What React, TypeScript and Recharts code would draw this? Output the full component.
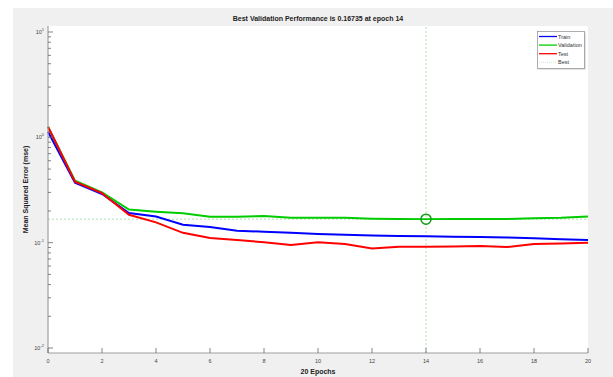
import {
  LineChart,
  Line,
  XAxis,
  YAxis,
  CartesianGrid,
  ReferenceLine,
  ReferenceDot,
  Legend,
} from "recharts";

// performance per epoch (mse)
const epochs = [0, 1, 2, 3, 4, 5, 6, 7, 8, 9, 10, 11, 12, 13, 14, 15, 16, 17, 18, 19, 20];
const train = [1.13, 0.37, 0.29, 0.191, 0.177, 0.148, 0.141, 0.13, 0.127, 0.124, 0.121, 0.119, 0.117, 0.116, 0.115, 0.114, 0.113, 0.112, 0.11, 0.108, 0.106];
const validation = [1.26, 0.387, 0.3, 0.206, 0.197, 0.19, 0.176, 0.176, 0.179, 0.172, 0.172, 0.172, 0.169, 0.168, 0.16735, 0.168, 0.168, 0.168, 0.171, 0.172, 0.177];
const test = [1.26, 0.38, 0.295, 0.184, 0.156, 0.124, 0.111, 0.106, 0.101, 0.095, 0.101, 0.097, 0.088, 0.0916, 0.0916, 0.092, 0.093, 0.091, 0.097, 0.098, 0.1];

const bestEpoch = 14;
const bestPerf = 0.16735;

const xTicks = [0, 2, 4, 6, 8, 10, 12, 14, 16, 18, 20];
const decades = [0.01, 0.1, 1, 10];
const minorSteps = [2, 3, 4, 5, 6, 7, 8, 9];
const yDomain = [0.00897, 11.4];

const legendItems = [
  { name: "Train", color: "#0000ff", dash: undefined },
  { name: "Validation", color: "#00cc00", dash: undefined },
  { name: "Test", color: "#ff0000", dash: undefined },
  { name: "Best", color: "#cfe8cf", dash: "1 1" },
];

const data = epochs.map((e, i) => ({
  epoch: e,
  train: train[i],
  validation: validation[i],
  test: test[i],
}));

const yTicks = decades
  .flatMap((d) => [d, ...minorSteps.map((m) => +(d * m).toPrecision(3))])
  .filter((v) => v >= yDomain[0] && v <= yDomain[1]);

const FONT = '"Liberation Sans", Arial, sans-serif';

const YTick = (props: any) => {
  const { x, y, payload } = props;
  const lg = Math.log10(payload.value);
  const exp = Math.round(lg);
  const major = Math.abs(lg - exp) < 1e-6;
  return (
    <g>
      <line x1={x} x2={x + (major ? 5 : 3)} y1={y} y2={y} stroke="#666" strokeWidth={0.8} />
      {major && (
        <text x={x - 4} y={y + 2} textAnchor="end" fontSize={5.5} fill="#444" fontFamily={FONT}>
          10
          <tspan dy={-3} fontSize={4}>
            {exp}
          </tspan>
        </text>
      )}
    </g>
  );
};

const XTick = (props: any) => {
  const { x, y, payload } = props;
  return (
    <g>
      <line x1={x} x2={x} y1={y} y2={y - 5} stroke="#666" strokeWidth={0.8} />
      <text x={x} y={y + 10} textAnchor="middle" fontSize={5.5} fill="#444" fontFamily={FONT}>
        {payload.value}
      </text>
    </g>
  );
};

const LegendBox = () => (
  <svg width={50} height={40}>
    <rect x={1.5} y={1.5} width={47} height={37} fill="#c8c8c8" />
    <rect x={0.5} y={0.5} width={47} height={37} fill="#fff" stroke="#999" strokeWidth={0.8} />
    {legendItems.map((it, i) => (
      <g key={it.name}>
        <line
          x1={2}
          x2={20}
          y1={5.5 + i * 8.6}
          y2={5.5 + i * 8.6}
          stroke={it.color}
          strokeWidth={it.dash ? 1 : 1.3}
          strokeDasharray={it.dash}
        />
        <text x={21} y={7.5 + i * 8.6} fontSize={5.5} fill="#333" fontFamily={FONT}>
          {it.name}
        </text>
      </g>
    ))}
  </svg>
);

export default function App() {
  return (
    <div style={{ position: "absolute", left: 0, top: 0, width: 613, height: 377, background: "#fff" }}>
      <div style={{ position: "absolute", left: 13, top: 8, width: 600, height: 369, background: "#f0f0f0" }} />
      <div
        style={{
          position: "absolute",
          left: 48,
          width: 540,
          top: 15,
          textAlign: "center",
          fontFamily: FONT,
          fontWeight: "bold",
          fontSize: 7,
          color: "#222",
          lineHeight: "8px",
        }}
      >
        Best Validation Performance is 0.16735 at epoch 14
      </div>
      <div style={{ position: "absolute", left: 0, top: 0 }}>
        <LineChart width={613} height={377} data={data} margin={{ top: 26, right: 25, bottom: 0, left: 0 }}>
          <CartesianGrid fill="#fff" horizontal={false} vertical={false} />
          <XAxis
            dataKey="epoch"
            type="number"
            domain={[0, 20]}
            ticks={xTicks}
            height={24}
            tickSize={0}
            tickMargin={0}
            tick={<XTick />}
            axisLine={{ stroke: "#a0a0a0", strokeWidth: 1.2 }}
            tickLine={false}
            label={({ viewBox }: any) => (
              <text
                x={viewBox.x + viewBox.width / 2}
                y={viewBox.y + 21}
                textAnchor="middle"
                fontSize={7}
                fontWeight="bold"
                fill="#222"
                fontFamily={FONT}
              >
                20 Epochs
              </text>
            )}
          />
          <YAxis
            scale="log"
            domain={yDomain}
            allowDataOverflow
            ticks={yTicks}
            interval={0}
            width={48}
            tickSize={0}
            tickMargin={0}
            tick={<YTick />}
            axisLine={{ stroke: "#a0a0a0", strokeWidth: 1.2 }}
            tickLine={false}
            label={({ viewBox }: any) => (
              <text
                x={28}
                y={viewBox.y + viewBox.height / 2}
                transform={`rotate(-90 28 ${viewBox.y + viewBox.height / 2})`}
                textAnchor="middle"
                fontSize={7}
                fontWeight="bold"
                fill="#222"
                fontFamily={FONT}
              >
                Mean Squared Error  (mse)
              </text>
            )}
          />
          <ReferenceLine y={bestPerf} stroke="#9ad89a" strokeWidth={0.8} strokeDasharray="2 2" />
          <ReferenceLine x={bestEpoch} stroke="#9ad89a" strokeWidth={0.8} strokeDasharray="2 2" />
          <Line dataKey="train" stroke="#0000ff" strokeWidth={2} dot={false} isAnimationActive={false} />
          <Line dataKey="validation" stroke="#00cc00" strokeWidth={2} dot={false} isAnimationActive={false} />
          <Line dataKey="test" stroke="#ff0000" strokeWidth={2} dot={false} isAnimationActive={false} />
          <ReferenceDot
            x={bestEpoch}
            y={bestPerf}
            r={5}
            fill="none"
            stroke="#119911"
            strokeWidth={1.5}
          />
          <Legend
            layout="horizontal"
            verticalAlign="middle"
            align="center"
            content={() => <LegendBox />}
            wrapperStyle={{ left: 537, top: 31, width: 50, height: 40 }}
          />
        </LineChart>
      </div>
    </div>
  );
}
